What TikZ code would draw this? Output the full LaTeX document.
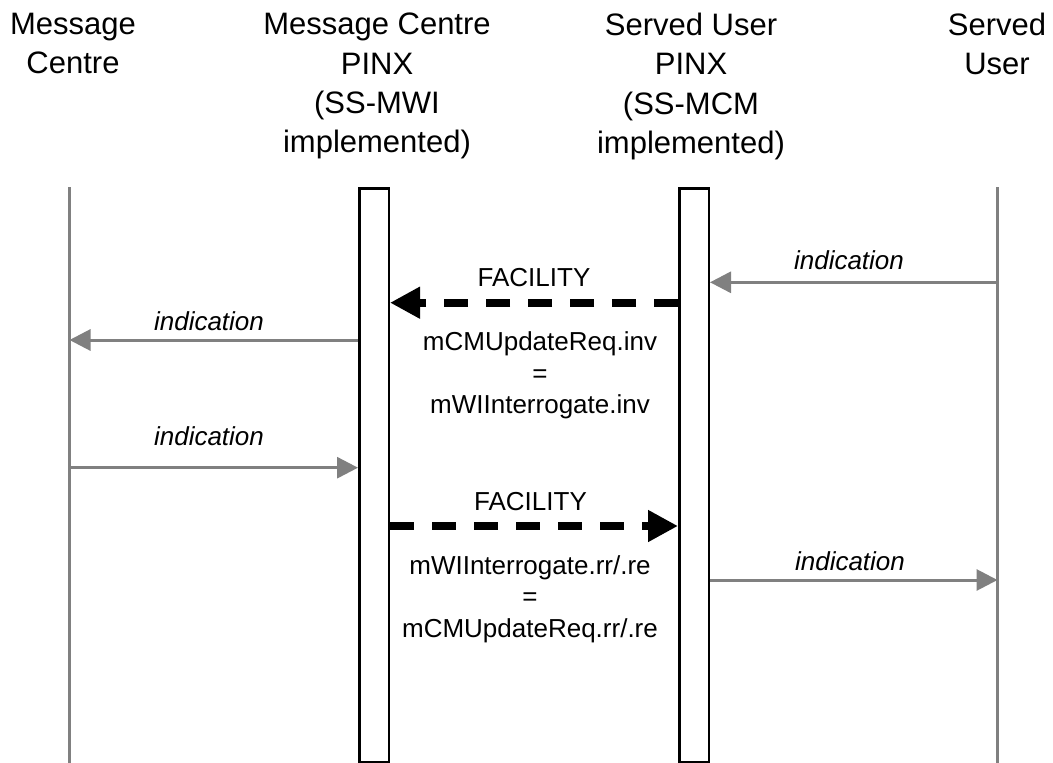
\documentclass[tikz,border=0pt]{standalone}
\usepackage{fontspec}
\setmainfont{Liberation Sans}
\usetikzlibrary{arrows.meta}
\definecolor{grayc}{HTML}{808080}
\begin{document}
\begin{tikzpicture}[x=1pt,y=-1pt,
  head/.style={font=\fontsize{31}{39.3}\selectfont, align=center, anchor=north, inner sep=0pt},
  lbl/.style={font=\fontsize{26}{31.5}\selectfont, align=center, anchor=north, inner sep=0pt},
  tag/.style={font=\fontsize{26}{31.5}\selectfont, anchor=base, inner sep=0pt},
  ind/.style={font=\fontsize{26}{31.5}\selectfont\itshape, anchor=base, inner sep=0pt},
  life/.style={draw=grayc, line width=2.5pt},
  act/.style={draw=black, line width=2.5pt, fill=white, minimum width=29.5pt, minimum height=574pt, anchor=north, inner sep=0pt},
  sig/.style={draw=grayc, line width=3pt, -{Triangle[length=21pt,width=21pt]}, grayc},
  fac/.style={draw=black, line width=8pt, dash pattern=on 24pt off 18pt, -{Triangle[length=30pt,width=30pt]}},
]
\useasboundingbox (0,0) rectangle (1053,763);
\fill[white] (0,0) rectangle (1053,763);

% headers
\node[head] (h1) at (73,13) {Message\\Centre};
\node[head] (h2) at (377,13) {Message Centre\\PINX\\(SS-MWI\\implemented)};
\node[head] (h3) at (691,13) {Served User\\PINX\\(SS-MCM\\implemented)};
\node[head] (h4) at (997,13) {Served\\User};

% lifelines
\coordinate (L1top) at (69.5,187);
\coordinate (L1bot) at (69.5,763);
\coordinate (L4top) at (997.5,187);
\coordinate (L4bot) at (997.5,763);
\draw[life] (L1top) -- (L1bot);
\draw[life] (L4top) -- (L4bot);

% activation boxes
\node[act] (b1) at (374,187) {};
\node[act] (b2) at (694,187) {};

% message rows
\coordinate (r1) at (0,282.3);
\coordinate (r2) at (0,302.7);
\coordinate (r3) at (0,340);
\coordinate (r4) at (0,467.7);
\coordinate (r5) at (0,526);
\coordinate (r6) at (0,580);

\draw[sig] (L4top |- r1) -- (b2.east |- r1);
\node[ind] (t1) at (849,269.3) {indication};

\draw[fac] (b2.west |- r2) -- (b1.east |- r2);
\node[tag] (t2) at (534,286) {FACILITY};
\node[lbl] (t3) at (540,331.5) {mCMUpdateReq.inv\\=\\mWIInterrogate.inv};

\draw[sig] (b1.west |- r3) -- (L1top |- r3);
\node[ind] (t4) at (209,330.7) {indication};

\draw[sig] (L1top |- r4) -- (b1.west |- r4);
\node[ind] (t5) at (209,445.7) {indication};

\draw[fac] (b1.east |- r5) -- (b2.west |- r5);
\node[tag] (t6) at (530.5,510) {FACILITY};
\node[lbl] (t7) at (530,555) {mWIInterrogate.rr/.re\\=\\mCMUpdateReq.rr/.re};

\draw[sig] (b2.east |- r6) -- (L4top |- r6);
\node[ind] (t8) at (850,570.7) {indication};
\end{tikzpicture}
\end{document}
